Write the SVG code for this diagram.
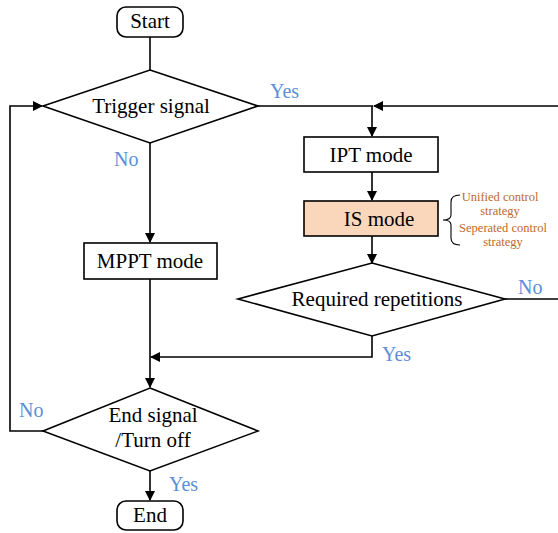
<svg xmlns="http://www.w3.org/2000/svg" width="558" height="533" viewBox="0 0 558 533" font-family="'Liberation Serif', 'Times New Roman', Times, 'DejaVu Serif', serif">
<defs>
<marker id="ah" markerWidth="10" markerHeight="10" refX="9" refY="5" orient="auto" markerUnits="userSpaceOnUse">
<path d="M0,0 L10,5 L0,10 Z" fill="#000"/>
</marker>
<style>
.s{fill:#fff;stroke:#000;stroke-width:1.6}
.t{font-size:21px;fill:#000;text-anchor:middle}
.y{font-size:20px;fill:#5B8FD9}
.b{font-size:12.5px;fill:#C0692A;text-anchor:middle}
.c{fill:none;stroke:#000;stroke-width:1.6}
</style>
</defs>
<rect width="558" height="533" fill="#fff"/>
<g id="connectors">
<path class="c" d="M150,37 V70"/>
<path class="c" d="M150,143 V242" marker-end="url(#ah)"/>
<path class="c" d="M258,106 H373"/>
<path class="c" d="M558,106 H374" marker-end="url(#ah)"/>
<path class="c" d="M372,106 V136" marker-end="url(#ah)"/>
<path class="c" d="M372,172 V200" marker-end="url(#ah)"/>
<path class="c" d="M372,236 V263" marker-end="url(#ah)"/>
<path class="c" d="M505,299 H558"/>
<path class="c" d="M372,336 V357 H151" marker-end="url(#ah)"/>
<path class="c" d="M150,279 V387" marker-end="url(#ah)"/>
<path class="c" d="M43,431 H10 V106 H42" marker-end="url(#ah)"/>
<path class="c" d="M150,471 V500" marker-end="url(#ah)"/>
<text class="y" x="270" y="98">Yes</text>
<text class="y" x="114" y="166">No</text>
<text class="y" x="518" y="294">No</text>
<text class="y" x="382" y="361">Yes</text>
<text class="y" x="19" y="417">No</text>
<text class="y" x="169" y="491">Yes</text>
</g>
<g id="start">
<rect class="s" x="117" y="7" width="66" height="30" rx="9"/>
<text class="t" x="150" y="28">Start</text>
</g>
<g id="trigger">
<polygon class="s" points="150,70 258,106 150,143 43,106"/>
<text class="t" x="151" y="113">Trigger signal</text>
</g>
<g id="ipt">
<rect class="s" x="304" y="137" width="134" height="35"/>
<text class="t" x="371" y="162">IPT mode</text>
</g>
<g id="is">
<rect x="304" y="201" width="134" height="35" fill="#FAD7BA" stroke="#000" stroke-width="1.6"/>
<text class="t" x="379" y="226">IS mode</text>
</g>
<g id="strategy">
<path d="M460,195 Q451,195 451,202 V215 Q451,220 443,220 Q451,220 451,225 V238 Q451,245 460,245" fill="none" stroke="#000" stroke-width="1.1"/>
<text class="b" x="500" y="201">Unified control</text>
<text class="b" x="500" y="215">strategy</text>
<text class="b" x="503" y="232">Seperated control</text>
<text class="b" x="503" y="246">strategy</text>
</g>
<g id="mppt">
<rect class="s" x="84" y="243" width="133" height="36"/>
<text class="t" x="150" y="268">MPPT mode</text>
</g>
<g id="repetitions">
<polygon class="s" points="372,263 505,299 372,336 238,299"/>
<text class="t" x="377" y="306">Required repetitions</text>
</g>
<g id="endsignal">
<polygon class="s" points="150,388 258,431 150,471 43,431"/>
<text class="t" x="153" y="422">End signal</text>
<text class="t" x="153" y="447">/Turn off</text>
</g>
<g id="end">
<rect class="s" x="117" y="501" width="66" height="29" rx="9"/>
<text class="t" x="150" y="522">End</text>
</g>
</svg>
